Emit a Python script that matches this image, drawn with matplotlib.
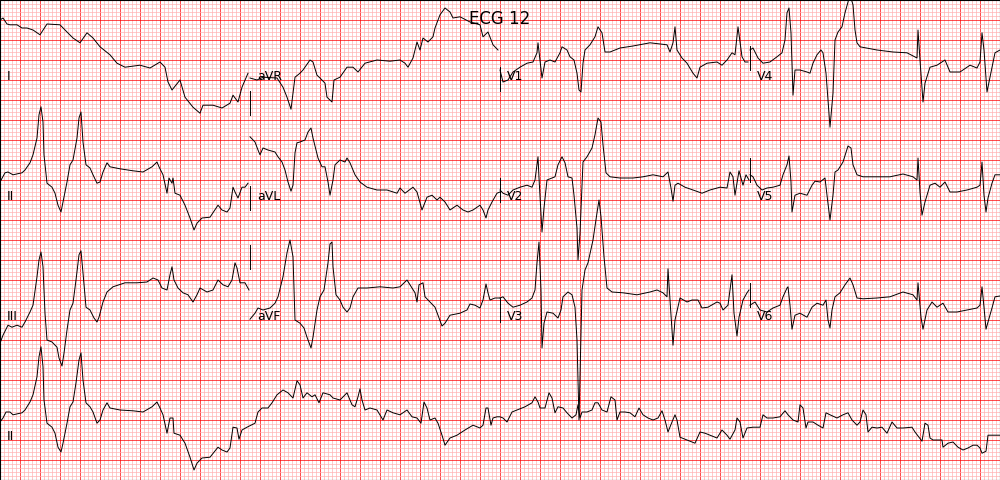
import numpy as np
import matplotlib
matplotlib.use('Agg')
import matplotlib.pyplot as plt
from matplotlib.ticker import AutoMinorLocator

# 12 lead ECG, 4 columns x 3 rows of 2.5 s, plus a 10 s rhythm strip of lead II
# times in seconds from the start of each segment, values in mV

lead_I_t = [0.00, 0.03, 0.07, 0.10, 0.17, 0.22, 0.27, 0.33, 0.40, 0.47, 0.60, 0.67, 0.73, 0.80, 0.87, 0.93,
            1.00, 1.10, 1.17, 1.25, 1.40, 1.50, 1.60, 1.65, 1.68, 1.72, 1.80, 1.85, 1.93, 2.00, 2.03, 2.13,
            2.22, 2.30, 2.33, 2.38, 2.42, 2.48]
lead_I_mv = [1.00, 1.05, 0.90, 0.88, 0.88, 0.80, 0.80, 0.75, 0.63, 0.90, 0.88, 0.70, 0.55, 0.43, 0.68, 0.55,
             0.33, 0.13, -0.08, -0.18, -0.13, -0.20, -0.05, -0.18, -0.55, -0.75, -0.50, -0.93, -1.18, -1.33, -1.13, -1.13,
             -1.20, -1.08, -0.88, -1.05, -0.68, -0.33]

lead_II_t = [0.00, 0.05, 0.08, 0.13, 0.22, 0.25, 0.30, 0.33, 0.37, 0.39, 0.41, 0.43, 0.44, 0.47, 0.52, 0.55,
             0.58, 0.61, 0.63, 0.67, 0.70, 0.73, 0.77, 0.79, 0.81, 0.83, 0.86, 0.90, 0.93, 0.97, 1.00, 1.03,
             1.07, 1.10, 1.20, 1.33, 1.43, 1.52, 1.57, 1.59, 1.63, 1.67, 1.69, 1.72, 1.73, 1.75, 1.80, 1.85,
             1.90, 1.94, 1.97, 2.02, 2.10, 2.18, 2.22, 2.27, 2.30, 2.33, 2.35, 2.38, 2.42, 2.45, 2.48]
lead_II_mv = [-0.05, 0.18, 0.20, 0.13, 0.18, 0.25, 0.43, 0.63, 1.05, 1.63, 1.83, 1.45, 0.63, -0.08, -0.18, -0.33,
              -0.63, -0.80, -0.55, -0.05, 0.38, 0.50, 1.05, 1.55, 1.70, 0.95, 0.38, 0.30, 0.13, -0.08, -0.05, 0.20,
              0.43, 0.33, 0.28, 0.23, 0.20, 0.33, 0.45, 0.33, 0.13, -0.33, 0.05, -0.08, 0.05, -0.33, -0.38, -0.63,
              -0.95, -1.25, -1.08, -0.95, -0.93, -0.63, -0.75, -0.80, -0.70, -0.18, -0.30, -0.45, -0.18, -0.18, -0.08]

lead_III_t = [0.00, 0.03, 0.08, 0.12, 0.17, 0.22, 0.25, 0.30, 0.33, 0.37, 0.39, 0.41, 0.43, 0.45, 0.47, 0.52,
              0.57, 0.59, 0.62, 0.64, 0.67, 0.70, 0.73, 0.76, 0.79, 0.81, 0.83, 0.86, 0.90, 0.94, 0.97, 0.99,
              1.03, 1.07, 1.13, 1.25, 1.37, 1.47, 1.53, 1.58, 1.62, 1.67, 1.70, 1.72, 1.74, 1.78, 1.83, 1.88,
              1.93, 1.97, 2.00, 2.07, 2.13, 2.18, 2.23, 2.28, 2.32, 2.35, 2.37, 2.40, 2.45, 2.49]
lead_III_mv = [-1.08, -0.88, -0.63, -0.68, -0.63, -0.68, -0.55, -0.30, -0.13, 0.58, 1.00, 1.20, 0.83, -0.33, -1.00, -1.05,
               -1.18, -1.45, -1.65, -1.33, -0.75, -0.25, -0.08, 0.50, 1.13, 1.23, 0.68, -0.18, -0.25, -0.45, -0.55, -0.43,
               -0.05, 0.20, 0.33, 0.43, 0.43, 0.45, 0.55, 0.50, 0.30, 0.25, 0.63, 0.83, 0.50, 0.30, 0.18, 0.13,
               -0.05, 0.13, 0.30, 0.20, 0.25, 0.50, 0.38, 0.33, 0.50, 0.93, 0.80, 0.43, 0.43, 0.25]

lead_aVR_t = [0.00, 0.07, 0.13, 0.27, 0.33, 0.37, 0.41, 0.43, 0.45, 0.50, 0.53, 0.60, 0.63, 0.67, 0.70, 0.75,
              0.77, 0.82, 0.84, 0.90, 0.97, 1.03, 1.08, 1.15, 1.27, 1.40, 1.50, 1.55, 1.58, 1.63, 1.67, 1.70,
              1.73, 1.78, 1.83, 1.85, 1.90, 1.95, 2.00, 2.03, 2.10, 2.20, 2.30, 2.33, 2.38, 2.43, 2.48]
lead_aVR_mv = [-0.45, -0.50, -0.43, -0.45, -0.68, -0.93, -1.23, -0.83, -0.43, -0.33, -0.25, 0.00, -0.05, -0.38, -0.45, -0.58,
               -0.93, -1.05, -0.50, -0.43, -0.18, -0.18, -0.30, -0.08, 0.00, -0.03, 0.00, -0.08, -0.18, 0.05, 0.45, 0.25,
               0.55, 0.45, 0.58, 0.80, 1.13, 1.30, 1.20, 1.05, 1.08, 0.95, 0.88, 0.58, 0.70, 0.38, 0.25]

lead_aVL_t = [0.00, 0.05, 0.08, 0.10, 0.13, 0.18, 0.25, 0.28, 0.32, 0.35, 0.38, 0.41, 0.43, 0.45, 0.47, 0.50,
              0.55, 0.58, 0.61, 0.63, 0.68, 0.72, 0.75, 0.78, 0.80, 0.83, 0.85, 0.90, 0.95, 0.97, 1.00, 1.05,
              1.10, 1.17, 1.27, 1.37, 1.47, 1.50, 1.55, 1.63, 1.67, 1.72, 1.77, 1.82, 1.87, 1.90, 1.95, 2.00,
              2.07, 2.13, 2.18, 2.23, 2.30, 2.33, 2.36, 2.38, 2.42, 2.47, 2.50]
lead_aVL_mv = [1.08, 0.95, 0.75, 0.63, 0.80, 0.75, 0.70, 0.58, 0.45, 0.25, -0.05, -0.28, -0.13, 0.68, 0.93, 0.95,
               1.00, 1.20, 1.30, 1.05, 0.55, 0.33, 0.33, -0.05, -0.38, 0.00, 0.38, 0.50, 0.45, 0.55, 0.43, 0.13,
               -0.05, -0.18, -0.25, -0.25, -0.33, -0.20, -0.33, -0.18, -0.30, -0.75, -0.43, -0.38, -0.50, -0.43, -0.55, -0.75,
               -0.63, -0.75, -0.80, -0.75, -0.63, -0.75, -0.95, -0.75, -0.55, -0.33, -0.30]

lead_aVF_t = [0.00, 0.05, 0.08, 0.13, 0.20, 0.25, 0.28, 0.33, 0.37, 0.40, 0.43, 0.45, 0.50, 0.54, 0.57, 0.61,
              0.63, 0.67, 0.70, 0.74, 0.78, 0.80, 0.82, 0.83, 0.86, 0.90, 0.93, 0.97, 1.00, 1.03, 1.08, 1.17,
              1.30, 1.43, 1.50, 1.57, 1.60, 1.65, 1.67, 1.69, 1.73, 1.75, 1.80, 1.85, 1.88, 1.92, 1.95, 2.00,
              2.10, 2.17, 2.20, 2.25, 2.30, 2.33, 2.36, 2.38, 2.40, 2.45, 2.50]
lead_aVF_mv = [-0.48, -0.33, -0.20, -0.25, -0.20, -0.08, 0.08, 0.58, 1.18, 1.50, 1.08, -0.50, -0.58, -0.70, -0.93, -1.20,
               -0.93, -0.25, 0.08, 0.25, 0.93, 1.40, 1.45, 0.83, 0.13, 0.00, -0.18, -0.30, -0.20, 0.08, 0.30, 0.30,
               0.33, 0.30, 0.33, 0.50, 0.38, 0.18, -0.05, 0.38, 0.43, 0.08, -0.05, -0.18, -0.38, -0.65, -0.58, -0.38,
               -0.33, -0.25, -0.10, -0.13, -0.20, 0.00, 0.40, 0.18, 0.00, 0.05, 0.05]

lead_V1_t = [0.00, 0.03, 0.08, 0.13, 0.20, 0.27, 0.33, 0.37, 0.38, 0.42, 0.45, 0.50, 0.55, 0.60, 0.62, 0.67,
             0.70, 0.74, 0.77, 0.79, 0.81, 0.83, 0.85, 0.90, 0.95, 0.98, 1.02, 1.05, 1.10, 1.20, 1.33, 1.50,
             1.67, 1.70, 1.73, 1.75, 1.77, 1.82, 1.87, 1.93, 1.97, 2.00, 2.07, 2.17, 2.22, 2.27, 2.32, 2.35,
             2.38, 2.42, 2.45, 2.48]
lead_V1_mv = [-0.25, -0.55, -0.50, -0.30, -0.18, -0.08, -0.05, 0.18, 0.43, -0.45, -0.05, 0.00, -0.05, 0.18, 0.33, 0.25,
              0.08, 0.00, -0.33, -0.75, -0.80, -0.08, 0.25, 0.38, 0.58, 0.83, 0.68, 0.20, 0.20, 0.30, 0.35, 0.43,
              0.38, 0.20, 0.43, 0.83, 0.25, 0.05, -0.08, -0.33, -0.45, -0.18, -0.08, -0.05, -0.13, 0.00, 0.18, 0.13,
              0.83, 0.08, -0.05, -0.05]

lead_V2_t = [0.00, 0.03, 0.08, 0.13, 0.20, 0.27, 0.32, 0.35, 0.38, 0.39, 0.42, 0.44, 0.47, 0.52, 0.55, 0.58,
             0.62, 0.65, 0.68, 0.72, 0.74, 0.77, 0.78, 0.80, 0.83, 0.87, 0.92, 0.95, 0.98, 1.01, 1.03, 1.06,
             1.10, 1.20, 1.33, 1.43, 1.53, 1.63, 1.68, 1.71, 1.73, 1.75, 1.78, 1.85, 1.93, 2.02, 2.10, 2.20,
             2.27, 2.30, 2.33, 2.35, 2.39, 2.43, 2.46, 2.49]
lead_V2_mv = [-0.25, -0.33, -0.38, -0.25, -0.18, -0.13, -0.18, 0.00, 0.58, 0.05, -1.30, -0.70, 0.00, 0.05, 0.08, 0.38,
              0.58, 0.43, 0.08, 0.05, -0.38, -1.20, -2.00, -1.33, 0.45, 0.58, 0.80, 1.13, 1.55, 1.45, 0.88, 0.18,
              0.08, 0.05, 0.05, 0.08, 0.13, 0.08, 0.20, -0.20, -0.53, -0.13, -0.08, -0.18, -0.25, -0.33, -0.25, -0.18,
              -0.20, 0.20, 0.08, -0.38, 0.23, -0.13, 0.13, 0.00]

lead_V3_t = [0.00, 0.03, 0.08, 0.13, 0.20, 0.27, 0.32, 0.35, 0.37, 0.39, 0.41, 0.42, 0.44, 0.47, 0.53, 0.58,
             0.61, 0.63, 0.68, 0.72, 0.75, 0.77, 0.79, 0.82, 0.85, 0.88, 0.93, 0.97, 0.99, 1.01, 1.04, 1.07,
             1.12, 1.23, 1.37, 1.50, 1.57, 1.63, 1.67, 1.68, 1.70, 1.73, 1.75, 1.80, 1.87, 1.92, 1.98, 2.02,
             2.08, 2.17, 2.20, 2.23, 2.28, 2.30, 2.32, 2.34, 2.37, 2.39, 2.43, 2.47, 2.49]
lead_V3_mv = [0.05, 0.08, -0.08, -0.18, -0.13, -0.05, 0.05, 0.25, 0.93, 1.45, 0.25, -1.20, -0.58, -0.30, -0.33, -0.45,
              -0.25, 0.08, 0.20, 0.13, -0.18, -1.00, -3.00, 0.25, 0.75, 0.93, 1.50, 2.18, 2.50, 2.08, 1.08, 0.30,
              0.20, 0.18, 0.13, 0.20, 0.25, 0.18, 0.08, 0.78, 0.00, -1.13, -0.50, 0.05, -0.05, 0.00, 0.00, -0.20,
              -0.18, -0.05, -0.08, -0.25, -0.13, 0.25, 0.63, -0.33, -0.90, -0.43, 0.00, 0.18, 0.25]

lead_V4_t = [0.00, 0.03, 0.08, 0.13, 0.20, 0.27, 0.32, 0.35, 0.37, 0.39, 0.41, 0.43, 0.45, 0.50, 0.57, 0.60,
             0.63, 0.67, 0.71, 0.73, 0.76, 0.78, 0.80, 0.83, 0.85, 0.88, 0.92, 0.95, 0.98, 1.00, 1.03, 1.05,
             1.07, 1.10, 1.27, 1.43, 1.57, 1.67, 1.68, 1.70, 1.73, 1.75, 1.80, 1.87, 1.95, 2.00, 2.10, 2.20,
             2.27, 2.30, 2.32, 2.34, 2.37, 2.40, 2.45, 2.50]
lead_V4_mv = [0.25, 0.30, 0.05, -0.08, -0.05, 0.08, 0.18, 0.50, 1.18, 1.30, 0.68, -0.88, -0.25, -0.25, -0.30, -0.33,
              -0.08, 0.13, 0.25, 0.18, -0.33, -1.00, -1.68, -0.83, 0.50, 0.70, 0.83, 1.18, 1.45, 1.63, 1.38, 0.75,
              0.43, 0.33, 0.25, 0.20, 0.18, 0.05, 0.75, 0.00, -1.05, -0.58, -0.18, -0.13, 0.00, -0.30, -0.30, -0.13,
              -0.20, -0.05, 0.68, 0.25, -0.80, -0.43, 0.18, 0.25]

lead_V5_t = [0.00, 0.03, 0.07, 0.12, 0.17, 0.23, 0.30, 0.33, 0.37, 0.39, 0.41, 0.42, 0.45, 0.50, 0.57, 0.62,
             0.65, 0.70, 0.75, 0.77, 0.80, 0.83, 0.85, 0.88, 0.93, 0.98, 1.01, 1.03, 1.07, 1.13, 1.27, 1.40,
             1.53, 1.63, 1.67, 1.68, 1.70, 1.72, 1.75, 1.80, 1.85, 1.90, 1.95, 2.00, 2.07, 2.17, 2.27, 2.30,
             2.32, 2.34, 2.36, 2.38, 2.42, 2.45, 2.50]
lead_V5_mv = [0.13, 0.08, -0.13, -0.25, -0.20, -0.18, -0.13, 0.13, 0.38, 0.60, -0.05, -0.80, -0.38, -0.33, -0.38, -0.13,
              -0.03, -0.05, 0.05, -0.38, -1.00, -0.38, 0.20, 0.25, 0.45, 0.85, 0.80, 0.38, 0.13, 0.08, 0.08, 0.08,
              0.15, 0.08, 0.00, 0.55, -0.30, -0.88, -0.55, -0.13, -0.08, -0.18, -0.05, -0.30, -0.30, -0.25, -0.18, -0.13,
              0.45, -0.38, -0.80, -0.45, -0.08, 0.13, 0.13]

lead_V6_t = [0.00, 0.05, 0.10, 0.17, 0.23, 0.30, 0.33, 0.37, 0.38, 0.40, 0.42, 0.45, 0.50, 0.57, 0.62, 0.67,
             0.73, 0.76, 0.78, 0.80, 0.82, 0.85, 0.90, 0.95, 1.00, 1.03, 1.07, 1.13, 1.27, 1.40, 1.53, 1.63,
             1.67, 1.68, 1.71, 1.73, 1.77, 1.82, 1.87, 1.93, 1.98, 2.07, 2.17, 2.27, 2.30, 2.32, 2.34, 2.36,
             2.38, 2.42, 2.45, 2.50]
lead_V6_mv = [-0.13, -0.05, -0.25, -0.30, -0.20, -0.13, 0.08, 0.30, 0.33, -0.13, -0.73, -0.38, -0.33, -0.43, -0.18, -0.08,
              -0.13, 0.00, -0.50, -0.70, -0.25, 0.08, 0.18, 0.38, 0.55, 0.38, 0.05, 0.03, 0.05, 0.08, 0.20, 0.13,
              0.00, 0.43, -0.43, -0.73, -0.25, -0.05, -0.18, -0.08, -0.30, -0.30, -0.25, -0.20, -0.13, 0.33, -0.18, -0.73,
              -0.55, -0.20, 0.08, 0.10]

# rhythm strip, lead II over the full 10 s
rhythm_t = [0.00, 0.03, 0.06, 0.10, 0.13, 0.22, 0.25, 0.30, 0.33, 0.37, 0.39, 0.41, 0.43, 0.44, 0.47, 0.52,
            0.55, 0.58, 0.61, 0.63, 0.67, 0.70, 0.73, 0.76, 0.79, 0.81, 0.83, 0.86, 0.90, 0.93, 0.97, 1.00,
            1.03, 1.07, 1.10, 1.20, 1.33, 1.43, 1.52, 1.57, 1.60, 1.63, 1.67, 1.70, 1.73, 1.74, 1.80, 1.85,
            1.90, 1.94, 1.97, 2.02, 2.10, 2.18, 2.22, 2.27, 2.30, 2.33, 2.37, 2.39, 2.42, 2.47, 2.55, 2.58,
            2.62, 2.68, 2.72, 2.77, 2.83, 2.88, 2.93, 2.97, 3.00, 3.03, 3.07, 3.12, 3.15, 3.19, 3.23, 3.30,
            3.33, 3.40, 3.47, 3.52, 3.55, 3.58, 3.60, 3.62, 3.65, 3.70, 3.77, 3.83, 3.87, 3.93, 4.00, 4.07,
            4.12, 4.17, 4.21, 4.24, 4.27, 4.30, 4.35, 4.38, 4.42, 4.45, 4.50, 4.57, 4.65, 4.73, 4.80, 4.83,
            4.86, 4.88, 4.91, 4.93, 4.97, 5.00, 5.03, 5.07, 5.12, 5.17, 5.25, 5.32, 5.35, 5.38, 5.40, 5.45,
            5.49, 5.52, 5.55, 5.58, 5.63, 5.67, 5.72, 5.76, 5.78, 5.80, 5.82, 5.87, 5.92, 5.95, 5.98, 6.02,
            6.07, 6.11, 6.15, 6.17, 6.20, 6.25, 6.30, 6.35, 6.39, 6.43, 6.48, 6.53, 6.58, 6.62, 6.65, 6.68,
            6.72, 6.75, 6.77, 6.80, 6.87, 6.95, 7.00, 7.05, 7.10, 7.17, 7.22, 7.27, 7.30, 7.35, 7.37, 7.40,
            7.43, 7.47, 7.53, 7.60, 7.63, 7.67, 7.73, 7.80, 7.85, 7.88, 7.93, 7.98, 8.00, 8.03, 8.06, 8.08,
            8.13, 8.18, 8.23, 8.26, 8.30, 8.37, 8.43, 8.48, 8.52, 8.57, 8.60, 8.63, 8.66, 8.68, 8.72, 8.77,
            8.82, 8.87, 8.92, 8.97, 9.03, 9.12, 9.15, 9.19, 9.22, 9.25, 9.28, 9.30, 9.33, 9.42, 9.43, 9.48,
            9.53, 9.58, 9.63, 9.68, 9.73, 9.77, 9.80, 9.82, 9.86, 9.88, 10.00]
rhythm_mv = [-0.05, 0.05, 0.20, 0.20, 0.13, 0.18, 0.25, 0.45, 0.63, 1.08, 1.58, 1.83, 1.33, 0.50, -0.08, -0.18,
             -0.33, -0.68, -0.80, -0.58, -0.08, 0.33, 0.45, 0.93, 1.50, 1.68, 1.00, 0.43, 0.33, 0.20, -0.08, 0.00,
             0.25, 0.43, 0.30, 0.25, 0.23, 0.20, 0.33, 0.45, 0.30, 0.13, -0.33, 0.05, 0.05, -0.33, -0.38, -0.58,
             -0.93, -1.25, -1.08, -0.95, -0.93, -0.68, -0.75, -0.80, -0.70, -0.18, -0.20, -0.48, -0.25, -0.18, -0.08, 0.20,
             0.30, 0.30, 0.43, 0.63, 0.75, 0.68, 0.55, 0.98, 0.88, 0.55, 0.68, 0.58, 0.63, 0.43, 0.68, 0.63,
             0.55, 0.50, 0.68, 0.38, 0.33, 0.58, 0.78, 0.50, 0.25, 0.30, 0.25, 0.00, 0.25, 0.18, 0.13, 0.25,
             0.08, 0.05, -0.08, 0.45, 0.30, 0.00, 0.05, -0.08, -0.38, -0.63, -0.45, -0.38, -0.25, -0.13, -0.20, -0.13,
             0.30, 0.30, -0.13, 0.05, 0.08, 0.08, 0.05, -0.05, 0.20, 0.25, 0.33, 0.43, 0.58, 0.45, 0.30, 0.30,
             0.68, 0.55, 0.18, 0.33, 0.30, 0.18, 0.05, 0.13, 0.38, 0.05, 0.20, 0.20, 0.25, 0.43, 0.43, 0.25,
             0.20, 0.58, 0.50, 0.00, 0.20, 0.20, 0.18, 0.08, 0.30, 0.13, 0.05, 0.00, 0.05, 0.23, 0.00, -0.30,
             -0.05, 0.13, 0.00, -0.43, -0.50, -0.58, -0.30, -0.33, -0.38, -0.45, -0.25, -0.38, -0.48, -0.25, 0.05, -0.05,
             -0.45, -0.20, -0.18, -0.18, 0.13, 0.05, 0.05, 0.08, 0.23, 0.13, 0.00, -0.05, 0.38, 0.30, -0.20, -0.05,
             -0.05, -0.13, -0.20, 0.18, 0.13, 0.05, 0.13, 0.18, 0.00, -0.13, -0.05, 0.25, 0.13, -0.30, -0.18, -0.20,
             -0.18, -0.33, -0.05, -0.20, -0.20, -0.18, -0.30, -0.43, -0.53, -0.08, -0.13, -0.45, -0.50, -0.50, -0.68, -0.58,
             -0.55, -0.68, -0.75, -0.70, -0.63, -0.63, -0.70, -0.83, -0.78, -0.38, -0.38]

leads = {
    'I': (lead_I_t, lead_I_mv), 'II': (lead_II_t, lead_II_mv), 'III': (lead_III_t, lead_III_mv),
    'aVR': (lead_aVR_t, lead_aVR_mv), 'aVL': (lead_aVL_t, lead_aVL_mv), 'aVF': (lead_aVF_t, lead_aVF_mv),
    'V1': (lead_V1_t, lead_V1_mv), 'V2': (lead_V2_t, lead_V2_mv), 'V3': (lead_V3_t, lead_V3_mv),
    'V4': (lead_V4_t, lead_V4_mv), 'V5': (lead_V5_t, lead_V5_mv), 'V6': (lead_V6_t, lead_V6_mv),
}
columns_order = [['I', 'II', 'III'], ['aVR', 'aVL', 'aVF'], ['V1', 'V2', 'V3'], ['V4', 'V5', 'V6']]

secs = 2.5
columns = 4
rows = 4
row_height = 6
line_width = 0.5
trace_width = 0.7
color_major = (1, 0, 0)
color_minor = (1, 0.7, 0.7)
color_line = (0, 0, 0)

fig, ax = plt.subplots(figsize=(secs * columns, rows * row_height / 5))
fig.subplots_adjust(hspace=0, wspace=0, left=0, right=1, bottom=0, top=1)
fig.suptitle('ECG 12')

x_min = 0
x_max = columns * secs
y_min = row_height / 4 - (rows / 2) * row_height
y_max = row_height / 4

# ecg paper grid
ax.set_xticks(np.arange(x_min, x_max, 0.2))
ax.set_yticks(np.arange(y_min, y_max, 0.5))
ax.minorticks_on()
ax.xaxis.set_minor_locator(AutoMinorLocator(5))
ax.grid(which='major', linestyle='-', linewidth=line_width, color=color_major)
ax.grid(which='minor', linestyle='-', linewidth=line_width, color=color_minor)
ax.tick_params(which='both', labelbottom=False, labelleft=False, length=0)
ax.set_ylim(y_min, y_max)
ax.set_xlim(x_min, x_max)

prev = None
for c, col in enumerate(columns_order):
    for i, name in enumerate(col):
        y_offset = -(row_height / 2) * i
        x_offset = secs * c
        if c > 0:
            # separator, taken from the start of the lead drawn just before
            start = leads[prev][1][0]
            ax.plot([x_offset, x_offset], [start + y_offset - 0.3, start + y_offset + 0.3],
                    linewidth=trace_width, color=color_line)
        t, mv = leads[name]
        ax.text(x_offset + 0.07, y_offset - 0.5, name, fontsize=9)
        ax.plot(np.array(t) + x_offset, np.array(mv) + y_offset, linewidth=trace_width, color=color_line)
        prev = name

# long lead II at the bottom
y_offset = -(row_height / 2) * 3
ax.text(0.07, y_offset - 0.5, 'II', fontsize=9)
ax.plot(rhythm_t, np.array(rhythm_mv) + y_offset, linewidth=trace_width, color=color_line)

plt.savefig('out.png', dpi=100)
